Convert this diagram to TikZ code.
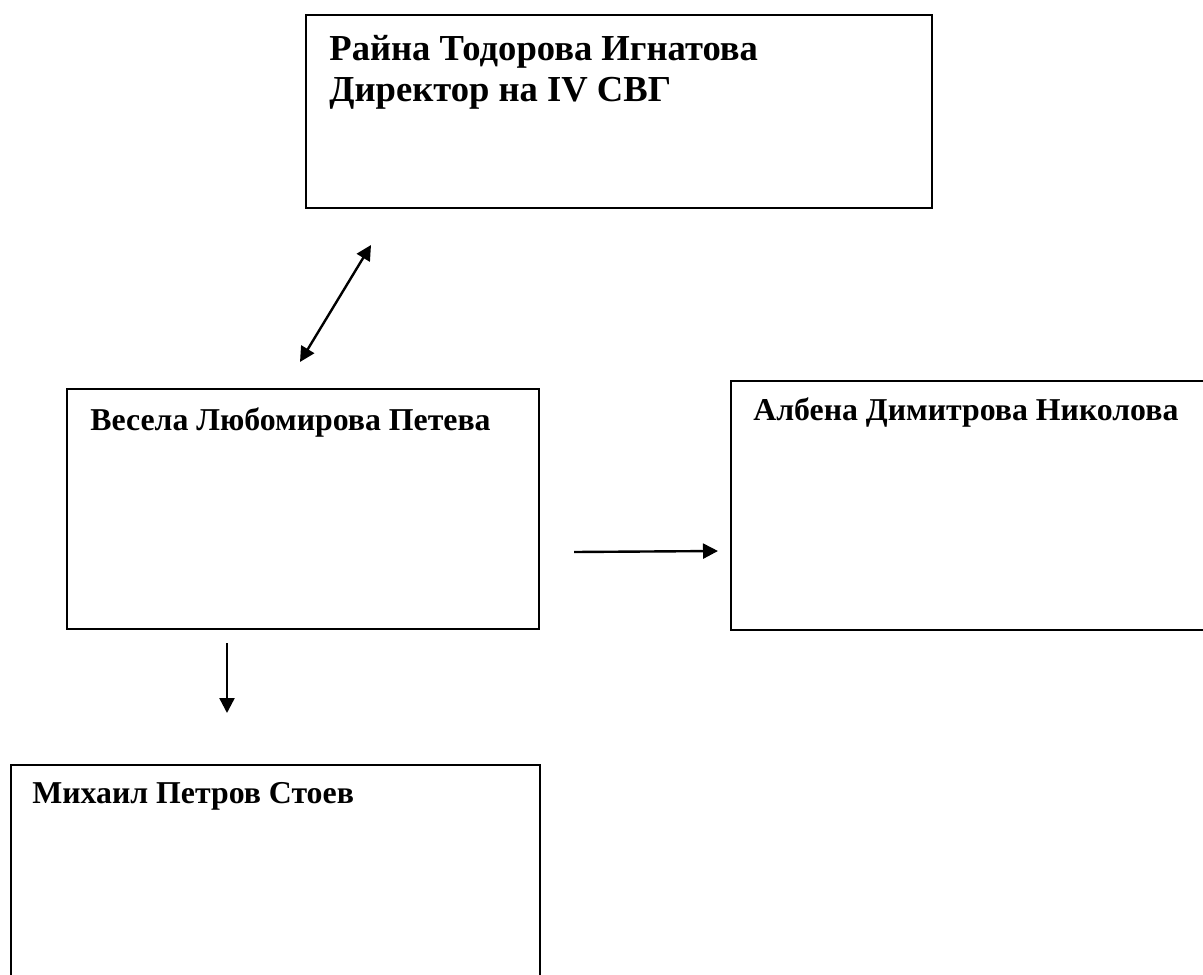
\documentclass[tikz,border=0pt]{standalone}
\usepackage{fontspec}
\setmainfont{Liberation Serif}
\usetikzlibrary{arrows.meta}
\tikzset{
  box/.style={draw=black, line width=0.9pt, rectangle, anchor=north west, inner sep=0pt, outer sep=0pt},
  lbl/.style={anchor=base west, inner sep=0pt, font=\bfseries\fontsize{15.9pt}{19pt}\selectfont},
  toplbl/.style={anchor=base west, inner sep=0pt, align=left, font=\bfseries\fontsize{18.3pt}{21pt}\selectfont},
  conn/.style={line width=1.2pt, -{Triangle[length=7.5pt,width=7.5pt]}},
  dconn/.style={line width=1.2pt, {Triangle[length=7.5pt,width=7.5pt]}-{Triangle[length=7.5pt,width=7.5pt]}},
}
\begin{document}
\begin{tikzpicture}[x=0.5pt,y=-0.5pt]
\clip (0,0) rectangle (1203,974);
\fill[white] (0,0) rectangle (1203,974);
% boxes
\node[box, minimum width=313pt, minimum height=96.5pt] (top) at (306,15) {};
\node[box, minimum width=236pt, minimum height=120pt] (ves) at (67,389) {};
\node[box, minimum width=250pt, minimum height=124.5pt] (alb) at (731,381) {};
\node[box, minimum width=264.5pt, minimum height=120pt] (mih) at (11,765) {};
% texts
\node[toplbl] (toptxt) at (329,61) {Райна Тодорова Игнатова};
\node[toplbl] (toptxt2) at (329,102) {Директор на IV СВГ};
\node[lbl] (vestxt) at (90,430) {Весела Любомирова Петева};
\node[lbl] (albtxt) at (753,420) {Албена Димитрова Николова};
\node[lbl] (mihtxt) at (32,803) {Михаил Петров Стоев};
% connector end points
\coordinate (d1) at (300,362);
\coordinate (d2) at (371,245);
\coordinate (h1) at (574,552);
\coordinate (h2) at (718,551);
\coordinate (v1) at (227,643);
\coordinate (v2) at (227,713);
\draw[dconn] (d1) -- (d2);
\draw[conn] (h1) -- (h2);
\draw[conn] (v1) -- (v2);
\end{tikzpicture}
\end{document}
